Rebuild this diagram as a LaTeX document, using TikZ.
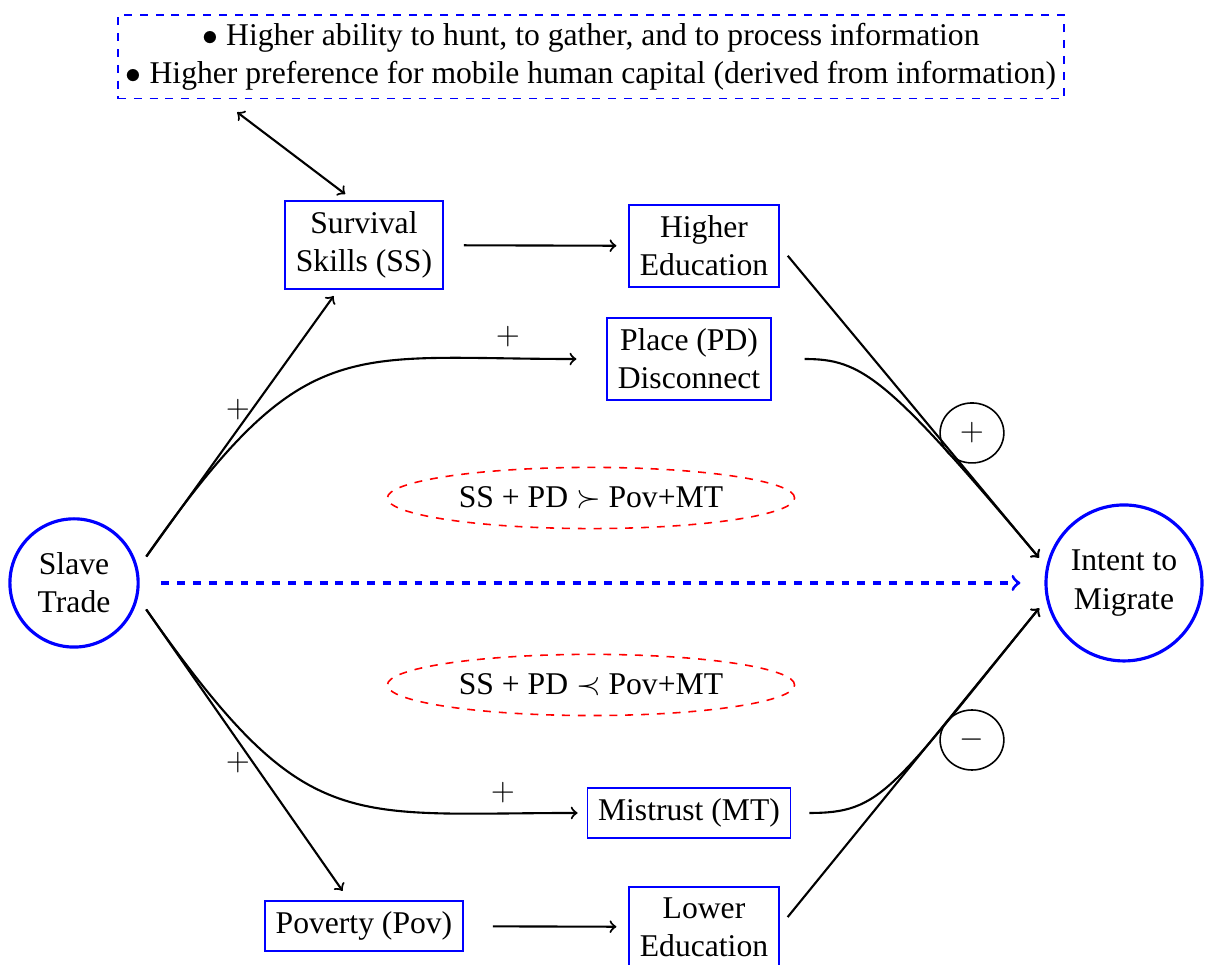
\documentclass[tikz,border=0pt,12pt]{standalone}
\usepackage{fontspec}
\setmainfont{Liberation Serif}
\usetikzlibrary{shapes.geometric}

\begin{document}
\begin{tikzpicture}[
  box/.style={draw=blue, line width=0.7pt, align=center, inner sep=4pt},
  hub/.style={draw=blue, circle, line width=1.2pt, align=center, inner sep=0pt},
  cond/.style={draw=red, semithick, dashed, ellipse, minimum width=5.43cm, minimum height=0.76cm},
  sign/.style={draw, semithick, ellipse, minimum width=0.85cm, minimum height=0.8cm, inner sep=0pt},
  link/.style={->, thick}
]
\useasboundingbox (0,0) rectangle (16.107,-12.867);
% nodes
\node[box, dashed, inner sep=3pt] (info) at (7.88,-0.76) {$\bullet$ Higher ability to hunt, to gather, and to process information\\ $\bullet$ Higher preference for mobile human capital (derived from information)};
\node[box] (ss) at (4.853,-3.267) {Survival\\ Skills (SS)};
\node[box] (he) at (9.387,-3.28) {Higher\\ Education};
\node[box] (pd) at (9.187,-4.787) {Place (PD)\\ Disconnect};
\node[hub, minimum size=1.71cm] (slave) at (0.987,-7.773) {Slave\\ Trade};
\node[hub, minimum size=2.08cm] (intent) at (14.987,-7.773) {Intent to\\ Migrate};
\node[box] (mt) at (9.187,-10.84) {Mistrust (MT)};
\node[box] (pov) at (4.853,-12.347) {Poverty (Pov)};
\node[box] (le) at (9.387,-12.36) {Lower\\ Education};
\node[cond] (more) at (7.88,-6.64) {SS + PD $\succ$ Pov+MT};
\node[cond] (less) at (7.88,-9.133) {SS + PD $\prec$ Pov+MT};
\node[sign] (pos) at (12.96,-5.773) {$+$};
\node[sign] (neg) at (12.96,-9.867) {$-$};
% signs on the links
\node (p1) at (3.173,-5.467) {$+$};
\node (p2) at (6.773,-4.493) {$+$};
\node (p3) at (3.173,-10.173) {$+$};
\node (p4) at (6.707,-10.573) {$+$};
% links
\draw[<->, thick] ([shift={(1.6,-0.17)}]info.south west) -- ([shift={(-0.25,0.08)}]ss.north);
\draw[link, shorten <=0.19cm, shorten >=0.1cm] (slave.13) -- (ss.240);
\draw[link, shorten <=0.19cm, shorten >=0.4cm] (slave.13) to[out=55, in=180, out looseness=1.45, in looseness=1.3] (pd.west);
\draw[link, shorten <=0.19cm, shorten >=0.15cm] (slave.-13) -- (pov.120);
\draw[link, shorten <=0.19cm, shorten >=0.12cm] (slave.-13) to[out=-55, in=180, out looseness=1.5, in looseness=1.25] (mt.west);
\draw[link, shorten <=0.27cm, shorten >=0.16cm] (ss) -- (he);
\draw[link, shorten <=0.39cm, shorten >=0.16cm] (pov) -- (le);
\draw[link, shorten <=0.17cm, shorten >=0.15cm] (he.east) -- (intent.168);
\draw[link, shorten <=0.44cm, shorten >=0.15cm] (pd.east) to[out=0, in=130, out looseness=0.67, in looseness=1.85] (intent.168);
\draw[link, shorten <=0.24cm, shorten >=0.15cm] (mt.east) to[out=0, in=-129, out looseness=0.69, in looseness=1.9] (intent.192);
\draw[link, shorten <=0.17cm, shorten >=0.15cm] (le.east) -- (intent.192);
\draw[->, blue, line width=1.2pt, dashed, shorten <=0.29cm, shorten >=0.32cm] (slave) -- (intent);
\end{tikzpicture}
\end{document}
